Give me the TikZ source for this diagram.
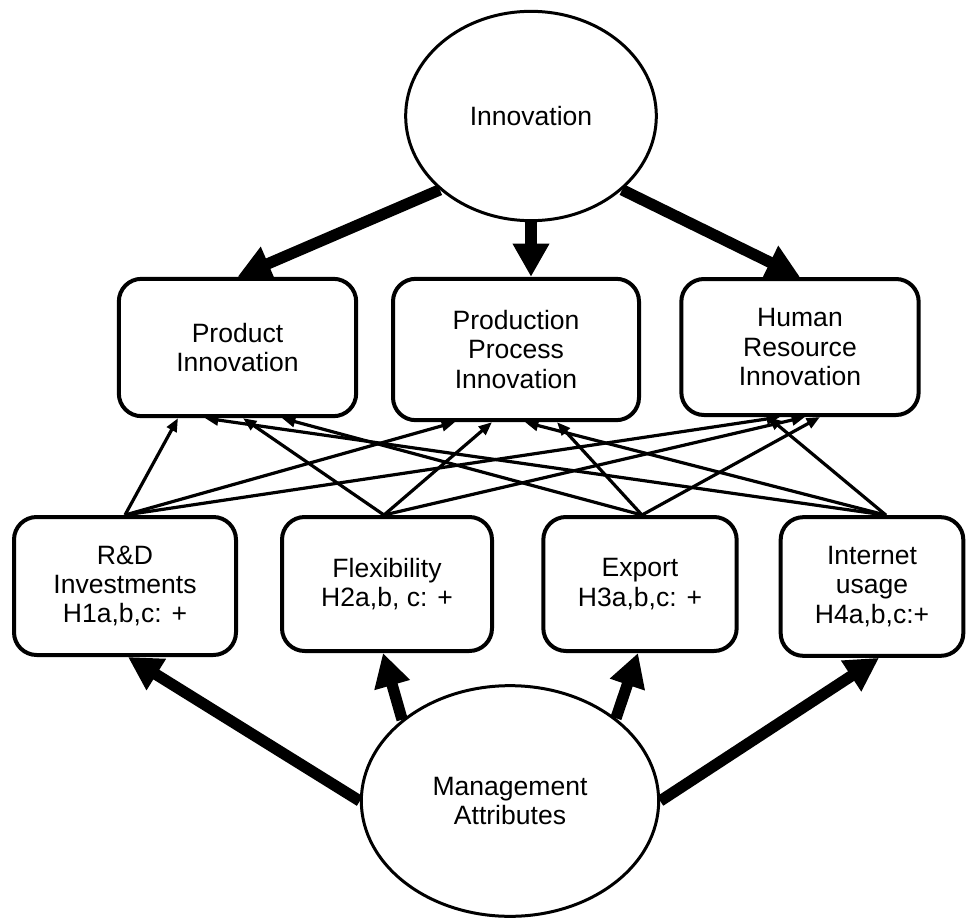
\documentclass[tikz,border=0pt]{standalone}
\usepackage{fontspec}
\setmainfont{Liberation Sans}
\usepackage{tikz}
\usetikzlibrary{arrows.meta,calc,shapes.geometric}

\begin{document}
\begin{tikzpicture}[
  x=0.75pt, y=-0.75pt,
  box/.style={draw, line width=3pt, rounded corners=17pt, align=center,
              inner sep=0pt, font=\fontsize{19.9}{22.1}\selectfont},
  oval/.style={ellipse, draw, line width=2.25pt, align=center,
               inner sep=0pt, font=\fontsize{19.9}{22.1}\selectfont},
  arr/.style={-{Triangle[length=25pt,width=26pt]}, line width=8.5pt},
  link/.style={-{Triangle[length=10pt,width=8pt]}, line width=2.4pt}
]
\useasboundingbox (0,0) rectangle (976,921);

% ellipses
\node[oval, minimum width=188pt, minimum height=157pt] (innov) at (531,116) {Innovation};
\node[oval, minimum width=223pt, minimum height=173pt] (mgmt) at (510,801)
  {Management\\Attributes};

% innovation types
\node[box, minimum width=178pt, minimum height=103pt] (prod) at (237.5,347.5)
  {Product\\Innovation};
\node[box, minimum width=184.5pt, minimum height=106pt] (process) at (516,349.5)
  {Production\\Process\\Innovation};
\node[box, minimum width=178pt, minimum height=102pt] (hr) at (800,347)
  {Human\\Resource\\Innovation};

% attributes
\node[box, minimum width=166.5pt, minimum height=103.5pt] (rd) at (125,586)
  {R\&D\\Investments\\H1a,b,c: +};
\node[box, minimum width=157.5pt, minimum height=100.5pt] (flex) at (387,584)
  {Flexibility\\H2a,b, c: +};
\node[box, minimum width=145pt, minimum height=100.5pt] (export) at (640,584)
  {Export\\H3a,b,c: +};
\node[box, minimum width=137pt, minimum height=104pt] (web) at (872,586.5)
  {Internet\\usage\\H4a,b,c:+};

% start points of the hypothesis links
\coordinate (rdtop) at (rd.north);
\coordinate (flextop) at ($(flex.north)+(-3,0)$);
\coordinate (exporttop) at ($(export.north)+(2,0)$);
\coordinate (webtop) at ($(web.north)+(14,0)$);

% innovation to its types
\draw[arr] (innov.219) -- (prod.north);
\draw[arr] (innov.south) -- (innov.south |- process.north);
\draw[arr] (innov.321) -- (hr.north);

% management to attributes
\draw[arr] (mgmt.west) -- ($(rd.south)+(3,0)$);
\draw[arr] (mgmt.143) -- ($(flex.south)+(-4,0)$);
\draw[arr] (mgmt.38) -- ($(export.south)+(-2,0)$);
\draw[arr] (mgmt.east) -- ($(web.south)+(7,0)$);

% hypotheses
\draw[link] (rdtop) -- ($(prod.south)+(-59.5,0)$);
\draw[link] (rdtop) -- ($(process.south)+(-61,0)$);
\draw[link] (rdtop) -- ($(hr.south)+(-20,0)$);
\draw[link] (flextop) -- ($(prod.south)+(5.5,0)$);
\draw[link] (flextop) -- ($(process.south)+(-24,0)$);
\draw[link] (flextop) -- ($(hr.south)+(5,0)$);
\draw[link] (exporttop) -- ($(prod.south)+(44.5,0)$);
\draw[link] (exporttop) -- ($(process.south)+(41,0)$);
\draw[link] (exporttop) -- ($(hr.south)+(20,0)$);
\draw[link] (webtop) -- ($(prod.south)+(-32.5,0)$);
\draw[link] (webtop) -- ($(process.south)+(9,0)$);
\draw[link] (webtop) -- ($(hr.south)+(-32,0)$);
\end{tikzpicture}
\end{document}
